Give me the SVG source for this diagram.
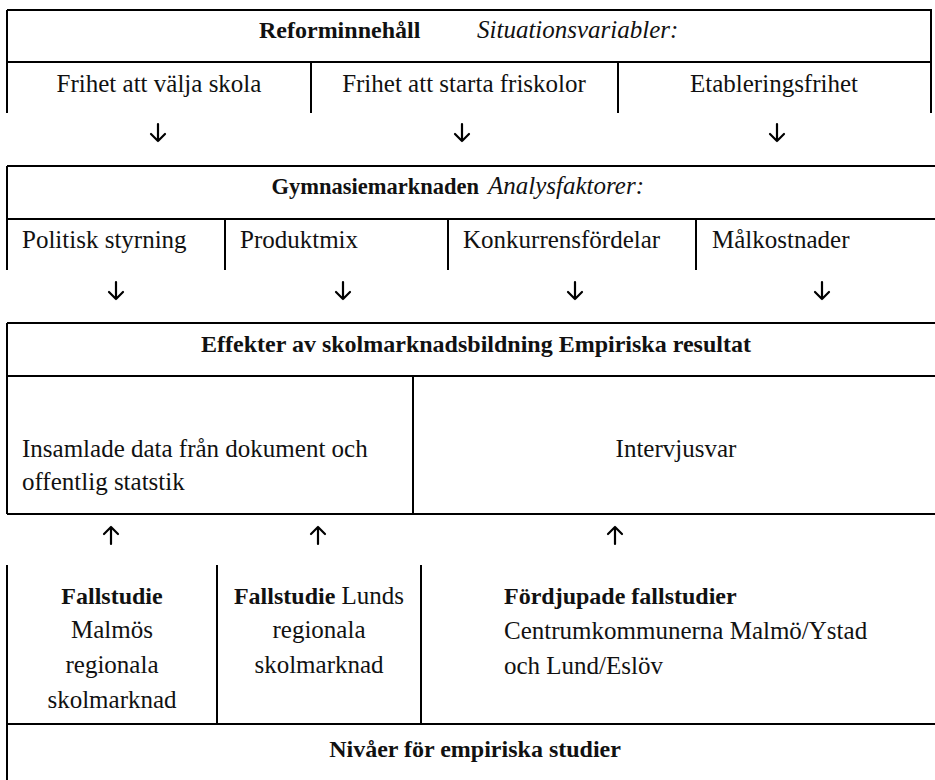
<svg xmlns="http://www.w3.org/2000/svg" width="935" height="780" viewBox="0 0 935 780">
<style>
text{font-family:"Liberation Serif","Times New Roman",serif;font-size:25px;fill:#111}
.b{font-weight:bold;font-size:24px}
.i{font-style:italic}
.m{text-anchor:middle}
.e{text-anchor:end}
.ln{stroke:#000;stroke-width:2;fill:none}
.ar{stroke:#000;stroke-width:2.2;fill:none;stroke-linecap:round;stroke-linejoin:round}
</style>
<rect width="935" height="780" fill="#fff"/>
<g id="reform">
<path class="ln" d="M7,10H931V113M7,10V113M7,62H931M311,62V113M618,62V113"/>
<text x="259" y="38" class="b">Reforminnehåll</text>
<text x="477" y="38" class="i">Situationsvariabler:</text>
</g>
<g id="frihet-valja"><text x="159" y="92" class="m">Frihet att välja skola</text></g>
<g id="frihet-starta"><text x="464" y="92" class="m">Frihet att starta friskolor</text></g>
<g id="etablering"><text x="774" y="92" class="m">Etableringsfrihet</text></g>
<g id="gymnasie">
<path class="ln" d="M7,166H935M7,166V270M7,219H935M225,219V270M448,219V270M696,219V270"/>
<text x="479" y="194" class="b e" style="font-size:22.5px">Gymnasiemarknaden</text>
<text x="488" y="194" class="i">Analysfaktorer:</text>
</g>
<g id="politisk"><text x="22" y="248">Politisk styrning</text></g>
<g id="produktmix"><text x="240" y="248">Produktmix</text></g>
<g id="konkurrens"><text x="463" y="248">Konkurrensfördelar</text></g>
<g id="malkostnader"><text x="712" y="248">Målkostnader</text></g>
<g id="effekter">
<path class="ln" d="M7,323H935M7,323V514M7,376H935M7,514H935M413,376V514"/>
<text x="476" y="352" class="b m">Effekter av skolmarknadsbildning Empiriska resultat</text>
</g>
<g id="insamlade">
<text x="22" y="457">Insamlade data från dokument och</text>
<text x="22" y="490">offentlig statstik</text>
</g>
<g id="intervjusvar"><text x="676" y="457" class="m">Intervjusvar</text></g>
<g id="nivaer">
<path class="ln" d="M7,565V780M217,565V724M421,565V724M7,724H935"/>
<text x="475" y="757" class="b m">Nivåer för empiriska studier</text>
</g>
<g id="fall-malmo">
<text x="112" y="604" class="b m">Fallstudie</text>
<text x="112" y="638" class="m">Malmös</text>
<text x="112" y="673" class="m">regionala</text>
<text x="112" y="708" class="m">skolmarknad</text>
</g>
<g id="fall-lund">
<text x="319" y="604" class="m"><tspan class="b">Fallstudie</tspan> Lunds</text>
<text x="319" y="638" class="m">regionala</text>
<text x="319" y="673" class="m">skolmarknad</text>
</g>
<g id="fordjupade">
<text x="504" y="604" class="b">Fördjupade fallstudier</text>
<text x="504" y="639">Centrumkommunerna Malmö/Ystad</text>
<text x="504" y="674">och Lund/Eslöv</text>
</g>
<g id="connectors">
<path class="ar" d="M158,124V141M151,134L158,141L165,134"/>
<path class="ar" d="M462,124V141M455,134L462,141L469,134"/>
<path class="ar" d="M777,124V141M770,134L777,141L784,134"/>
<path class="ar" d="M116,282V299M109,292L116,299L123,292"/>
<path class="ar" d="M343,282V299M336,292L343,299L350,292"/>
<path class="ar" d="M575,282V299M568,292L575,299L582,292"/>
<path class="ar" d="M822,282V299M815,292L822,299L829,292"/>
<path class="ar" d="M111,544V527M104,534L111,527L118,534"/>
<path class="ar" d="M318,544V527M311,534L318,527L325,534"/>
<path class="ar" d="M615,544V527M608,534L615,527L622,534"/>
</g>
</svg>
